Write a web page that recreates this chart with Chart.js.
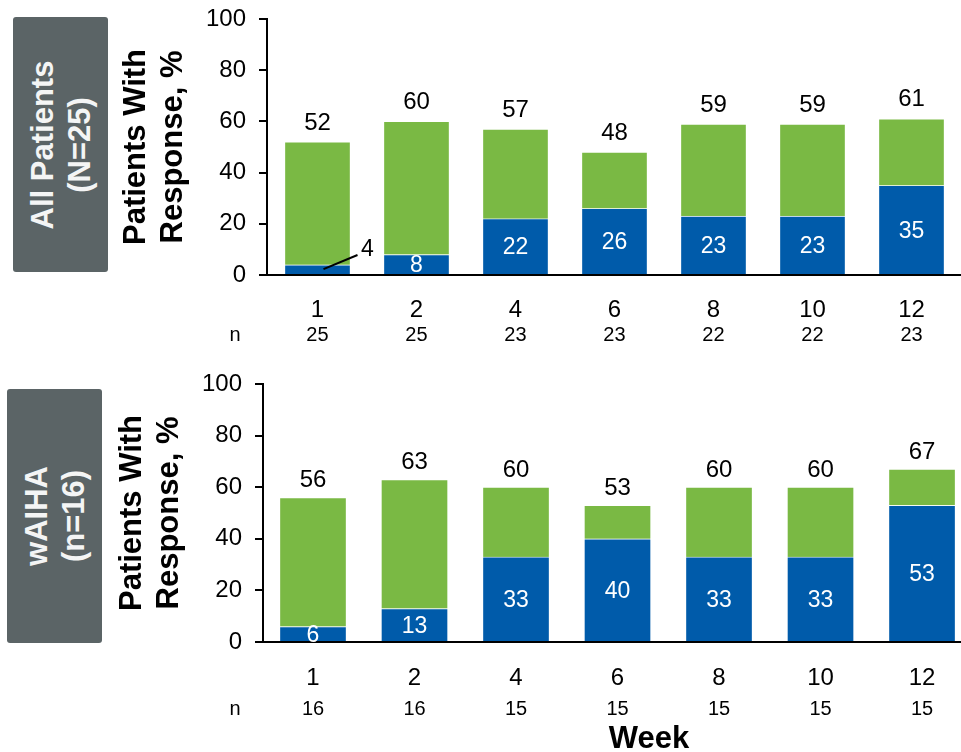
<!DOCTYPE html>
<html>
<head>
<meta charset="utf-8">
<script src="https://cdn.jsdelivr.net/npm/chart.js@4/dist/chart.umd.min.js"></script>
<style>
  html, body { margin: 0; padding: 0; background: #fff; overflow: hidden; }
  body { width: 961px; height: 752px; position: relative; font-family: "Liberation Sans", Arial, sans-serif; }
  .panel { position: absolute; left: 0; }
  #topPanel { top: 0; }
  #bottomPanel { top: 360px; }
  .tag { position: absolute; background: #5b6466; border-radius: 3px; width: 95px; }
  .tag span {
    position: absolute; left: 50%; top: 50%;
    transform: translate(-50%, -50%) rotate(-90deg);
    white-space: nowrap; text-align: center; color: #f4f5f5;
    font-weight: bold; font-size: 31px; line-height: 37px;
  }
</style>
</head>
<body>
<div class="tag" style="left:13px;top:17px;height:255px;"><span>All Patients<br>(N=25)</span></div>
<div class="tag" style="left:7px;top:389px;height:254px;"><span>wAIHA<br>(n=16)</span></div>
<canvas id="topPanel" class="panel" width="961" height="360"></canvas>
<canvas id="bottomPanel" class="panel" width="961" height="392"></canvas>
<script>
// Visit weeks on the x axis
const weeks = ['1', '2', '4', '6', '8', '10', '12'];
const yTicks = [0, 20, 40, 60, 80, 100];

// All patients (N=25)
const allN = [25, 25, 23, 23, 22, 22, 23];
const allTotal = [52, 60, 57, 48, 59, 59, 61];
const allComplete = [4, 8, 22, 26, 23, 23, 35];

// wAIHA subgroup (n=16)
const waihaN = [16, 16, 15, 15, 15, 15, 15];
const waihaTotal = [56, 63, 60, 53, 60, 60, 67];
const waihaComplete = [6, 13, 33, 40, 33, 33, 53];

const BLUE = '#005baa';
const GREEN = '#7ab944';
const FONT = '"Liberation Sans", Arial, sans-serif';

// Writes totals above each stack, the blue share inside it and the n row
const valueLabels = {
  id: 'valueLabels',
  afterDatasetsDraw(chart, args, o) {
    const { ctx, scales: { x, y } } = chart;
    ctx.save();
    ctx.textAlign = 'center';
    ctx.textBaseline = 'middle';
    o.total.forEach((t, i) => {
      const cx = x.getPixelForValue(i);
      ctx.font = '24px ' + FONT;
      ctx.fillStyle = '#000';
      ctx.fillText(String(t), cx, y.getPixelForValue(t) - o.topGap);
      const b = o.complete[i];
      ctx.font = '23px ' + FONT;
      if (i === o.calloutIndex) {
        ctx.strokeStyle = '#000';
        ctx.lineWidth = 2;
        ctx.beginPath();
        ctx.moveTo(cx + 6, y.getPixelForValue(b * 0.58));
        ctx.lineTo(cx + 40, y.getPixelForValue(b * 1.95));
        ctx.stroke();
        ctx.fillText(String(b), cx + 50, y.getPixelForValue(b * 2.45));
      } else {
        ctx.fillStyle = '#fff';
        ctx.fillText(String(b), cx, (y.getPixelForValue(0) + y.getPixelForValue(b)) / 2 + 1);
      }
    });
    ctx.fillStyle = '#000';
    ctx.font = '20px ' + FONT;
    const ny = y.getPixelForValue(0) + o.nGap;
    ctx.fillText('n', 235, ny);
    o.n.forEach((v, i) => ctx.fillText(String(v), x.getPixelForValue(i), ny));
    if (o.xTitle) {
      ctx.font = 'bold 31px ' + FONT;
      ctx.fillText(o.xTitle, 649, ny + 30);
    }
    ctx.restore();
  }
};

function makePanel(id, cfg) {
  return new Chart(document.getElementById(id), {
    type: 'bar',
    data: {
      datasets: [
        {
          label: 'Complete response',
          data: cfg.complete.map((v, i) => ({ x: i, y: v })),
          backgroundColor: BLUE,
          borderColor: 'rgba(255,255,255,0.35)',
          borderWidth: 1,
          barThickness: cfg.barW,
          stack: 'r'
        },
        {
          label: 'Partial response',
          data: cfg.total.map((v, i) => ({ x: i, y: v - cfg.complete[i] })),
          backgroundColor: GREEN,
          borderColor: 'rgba(255,255,255,0.35)',
          borderWidth: 1,
          barThickness: cfg.barW,
          stack: 'r'
        }
      ]
    },
    options: {
      responsive: false,
      animation: false,
      layout: { padding: { left: 0, right: 0, top: cfg.padTop, bottom: 0 } },
      plugins: {
        legend: { display: false },
        tooltip: { enabled: false },
        valueLabels: {
          total: cfg.total, complete: cfg.complete, n: cfg.n,
          topGap: cfg.topGap, nGap: cfg.nGap, calloutIndex: cfg.calloutIndex,
          xTitle: cfg.xTitle
        }
      },
      scales: {
        x: {
          type: 'linear',
          min: cfg.xMin,
          max: cfg.xMax,
          stacked: true,
          offset: false,
          afterBuildTicks: s => { s.ticks = weeks.map((w, i) => ({ value: i })); },
          afterFit: s => { s.height = cfg.xHeight; },
          grid: { display: false, drawTicks: false },
          border: { display: true, color: '#000', width: 2 },
          ticks: {
            autoSkip: false, maxRotation: 0, padding: cfg.xPad, color: '#000',
            font: { size: 24, family: FONT },
            callback: v => weeks[v]
          }
        },
        y: {
          min: 0,
          max: 100,
          stacked: true,
          afterBuildTicks: s => { s.ticks = yTicks.map(v => ({ value: v })); },
          afterFit: s => {
            s.width = cfg.axisX;
            s.paddingTop = 0;
            s.paddingBottom = 0;
          },
          grid: { drawOnChartArea: false, drawTicks: true, tickLength: 8, color: '#000', lineWidth: 2 },
          border: { display: true, color: '#000', width: 2 },
          ticks: { padding: 13, color: '#000', font: { size: 24, family: FONT } },
          title: {
            display: true,
            text: ['Patients With', 'Response, %'],
            color: '#000',
            font: { size: 31, weight: 'bold', family: FONT, lineHeight: 1.19 },
            padding: { top: cfg.titlePad, bottom: 0 }
          }
        }
      }
    },
    plugins: [valueLabels]
  });
}

makePanel('topPanel', {
  total: allTotal, complete: allComplete, n: allN,
  axisX: 267, padTop: 19, xHeight: 85,
  xMin: -0.51, xMax: 6.5, barW: 66,
  xPad: 21, topGap: 19, nGap: 60, titlePad: 118, calloutIndex: 0
});

makePanel('bottomPanel', {
  total: waihaTotal, complete: waihaComplete, n: waihaN,
  axisX: 263, padTop: 24, xHeight: 110,
  xMin: -0.4926, xMax: 6.384, barW: 67,
  xPad: 22, topGap: 17, nGap: 67, titlePad: 114, calloutIndex: -1,
  xTitle: 'Week'
});
</script>
</body>
</html>
